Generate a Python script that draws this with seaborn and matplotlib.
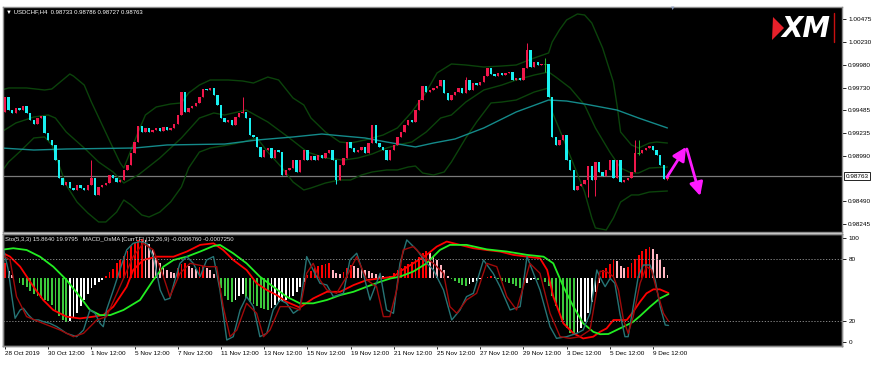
import numpy as np
import matplotlib
matplotlib.use("Agg")
import matplotlib.pyplot as plt
import seaborn as sns
from matplotlib.patches import Polygon
from matplotlib.lines import Line2D
from matplotlib.transforms import blended_transform_factory

# -------------------------------
# Price data (USDCHF H4, one close per bar)
# -------------------------------
FIRST_OPEN = 0.99464
CLOSES = [
    0.99627, 0.99485, 0.99453, 0.99507, 0.99485, 0.99529, 0.99453, 0.99377, 0.99333, 0.99398,
    0.99420, 0.99235, 0.99159, 0.99105, 0.98941, 0.98746, 0.98669, 0.98702, 0.98637, 0.98615,
    0.98669, 0.98637, 0.98615, 0.98669, 0.98746, 0.98561, 0.98648, 0.98669, 0.98691, 0.98778,
    0.98746, 0.98702, 0.98724, 0.98833, 0.98887, 0.99018, 0.99137, 0.99311, 0.99246, 0.99290,
    0.99246, 0.99268, 0.99290, 0.99257, 0.99300, 0.99268, 0.99290, 0.99333, 0.99431, 0.99681,
    0.99464, 0.99507, 0.99529, 0.99562, 0.99627, 0.99714, 0.99703, 0.99725, 0.99649, 0.99540,
    0.99398, 0.99355, 0.99377, 0.99322, 0.99409, 0.99453, 0.99464, 0.99398, 0.99213, 0.99192,
    0.99083, 0.98974, 0.99050, 0.99072, 0.98963, 0.99050, 0.99028, 0.98778, 0.98833, 0.98854,
    0.98941, 0.98811, 0.98941, 0.99050, 0.98941, 0.98985, 0.98941, 0.98996, 0.98963, 0.99018,
    0.99050, 0.98941, 0.98724, 0.98887, 0.98963, 0.99137, 0.99072, 0.99028, 0.99050, 0.99083,
    0.99018, 0.99126, 0.99322, 0.99126, 0.99083, 0.99050, 0.98941, 0.99050, 0.99105, 0.99192,
    0.99246, 0.99322, 0.99377, 0.99355, 0.99485, 0.99594, 0.99746, 0.99681, 0.99703, 0.99725,
    0.99746, 0.99812, 0.99670, 0.99594, 0.99649, 0.99681, 0.99725, 0.99670, 0.99812, 0.99703,
    0.99779, 0.99757, 0.99790, 0.99855, 0.99942, 0.99877, 0.99855, 0.99888, 0.99866, 0.99888,
    0.99899, 0.99812, 0.99834, 0.99812, 0.99942, 1.00138, 0.99953, 1.00008, 0.99975, 0.99986,
    0.99986, 0.99627, 0.99192, 0.99105, 0.99159, 0.99213, 0.98941, 0.98833, 0.98615, 0.98658,
    0.98680, 0.98724, 0.98876, 0.98724, 0.98920, 0.98811, 0.98767, 0.98833, 0.98941, 0.98746,
    0.98941, 0.98702, 0.98724, 0.98746, 0.98811, 0.99018, 0.99018, 0.99050, 0.99072, 0.99094,
    0.99050, 0.98996, 0.98887, 0.98733, 0.98763,
]
HIGH_WICKS = {24: 0.98941, 66: 0.99627, 128: 0.99844, 145: 1.00214, 150: 1.00051,
              175: 0.99159, 176: 0.99159, 184: 0.98786}
LOW_WICKS = {92: 0.98680, 150: 0.99899, 162: 0.98539, 164: 0.98550, 176: 0.98996, 184: 0.98727}
CURRENT = 0.98763

# Bollinger bands and long moving average (bar position, price)
BB_UP_BAR = [-1, 1, 6, 11, 13, 15, 18, 19, 22, 24, 27, 30, 32, 33, 37, 39, 42, 46, 49, 51,
             54, 57, 62, 66, 69, 73, 76, 80, 83, 85, 89, 93, 96, 100, 105, 109, 113, 117, 120, 124,
             128, 133, 138, 142, 147, 151, 152, 154, 156, 159, 161, 163, 166, 169, 170, 171, 174, 176, 179, 181,
             184]
BB_UP = [0.99703, 0.99725, 0.99725, 0.99703, 0.99714, 0.99779, 0.99877, 0.99855, 0.99757, 0.99572,
         0.99322, 0.99072, 0.98909, 0.98854, 0.99246, 0.99431, 0.99518, 0.99551, 0.99562, 0.99670,
         0.99757, 0.99812, 0.99812, 0.99801, 0.99779, 0.99844, 0.99812, 0.99616, 0.99540, 0.99398,
         0.99246, 0.99137, 0.99126, 0.99159, 0.99213, 0.99290, 0.99464, 0.99681, 0.99888, 0.99986,
         0.99975, 0.99953, 0.99964, 0.99975, 1.00051, 1.00106, 1.00225, 1.00356, 1.00465, 1.00530,
         1.00519, 1.00432, 1.00160, 0.99790, 0.99540, 0.99246, 0.99105, 0.99072, 0.99126, 0.99137,
         0.99126]
BB_MID_BAR = [-1, 3, 8, 12, 14, 17, 22, 26, 30, 33, 37, 43, 49, 54, 58, 61, 67, 73, 79, 84,
              89, 94, 98, 102, 106, 109, 113, 117, 121, 124, 128, 133, 138, 142, 147, 151, 153, 157, 161, 164,
              168, 171, 174, 176, 179, 184]
BB_MID = [0.99246, 0.99344, 0.99409, 0.99431, 0.99398, 0.99246, 0.99072, 0.98920, 0.98811, 0.98691,
          0.98778, 0.98963, 0.99181, 0.99398, 0.99453, 0.99431, 0.99485, 0.99355, 0.99181, 0.99028,
          0.98963, 0.98941, 0.98963, 0.99007, 0.99072, 0.99105, 0.99137, 0.99246, 0.99398, 0.99431,
          0.99572, 0.99703, 0.99757, 0.99812, 0.99866, 0.99899, 0.99844, 0.99725, 0.99540, 0.99290,
          0.99028, 0.98854, 0.98800, 0.98800, 0.98854, 0.98865]
BB_LOW_BAR = [-1, 1, 4, 8, 11, 13, 15, 17, 20, 23, 26, 28, 31, 33, 35, 38, 40, 43, 46, 49,
              51, 54, 57, 62, 66, 70, 73, 77, 80, 83, 85, 89, 93, 96, 99, 102, 106, 109, 112, 114,
              116, 119, 122, 124, 128, 131, 135, 138, 142, 147, 151, 152, 155, 158, 161, 163, 164, 167, 169, 171,
              174, 176, 179, 184]
BB_LOW = [0.98811, 0.98920, 0.99028, 0.99181, 0.99192, 0.99105, 0.98887, 0.98669, 0.98484, 0.98365,
          0.98267, 0.98267, 0.98375, 0.98506, 0.98452, 0.98343, 0.98321, 0.98375, 0.98484, 0.98648,
          0.98854, 0.99028, 0.99072, 0.99105, 0.99137, 0.99181, 0.99028, 0.98854, 0.98702, 0.98615,
          0.98637, 0.98691, 0.98724, 0.98724, 0.98778, 0.98811, 0.98833, 0.98833, 0.98865, 0.98876,
          0.98800, 0.98778, 0.98811, 0.98920, 0.99181, 0.99355, 0.99562, 0.99572, 0.99594, 0.99681,
          0.99725, 0.99464, 0.99181, 0.98887, 0.98593, 0.98310, 0.98202, 0.98180, 0.98310, 0.98484,
          0.98561, 0.98561, 0.98593, 0.98604]
MA_BAR = [-1, 8, 17, 36, 45, 61, 70, 80, 88, 94, 100, 106, 114, 119, 125, 133, 142, 151, 156, 161,
          170, 176, 184]
MA = [0.99072, 0.99050, 0.99061, 0.99072, 0.99105, 0.99115, 0.99159, 0.99192, 0.99224, 0.99202,
      0.99181, 0.99137, 0.99083, 0.99126, 0.99170, 0.99290, 0.99464, 0.99594, 0.99583, 0.99551,
      0.99485, 0.99398, 0.99290]

# -------------------------------
# Indicator window: Stochastic (5,3,3) and MACD OsMA (values in 1e-4)
# -------------------------------
OSMA = [
    6.8, 3.2, 1.4, 0.0, -2.3, -3.2, -4.1, -5.9, -7.2, -8.1,
    -9.0, -9.9, -10.4, -12.2, -14.4, -17.1, -18.9, -19.8, -19.4, -18.0,
    -15.8, -12.6, -9.9, -7.2, -4.5, -3.2, -1.8, -0.9, 0.9, 2.7,
    4.1, 6.8, 8.1, 9.9, 12.2, 14.4, 15.8, 17.1, 17.6, 17.1,
    15.3, 12.6, 9.9, 6.8, 4.5, 3.6, 2.7, 2.3, 4.5, 6.3,
    6.8, 5.4, 4.5, 4.1, 5.0, 5.4, 4.5, 3.6, 1.8, 0.5,
    -4.5, -8.1, -9.9, -10.8, -9.9, -8.1, -7.2, -9.0, -10.8, -11.7,
    -12.6, -13.5, -14.0, -14.4, -13.5, -12.2, -10.8, -10.4, -9.9, -9.0,
    -8.1, -6.3, -4.1, -1.8, 1.4, 3.2, 4.5, 5.4, 5.9, 6.3,
    6.8, 3.6, 2.3, 1.8, 2.7, 4.5, 5.9, 5.4, 4.5, 4.1,
    3.6, 3.2, 2.3, 1.8, 1.4, 0.9, 0.5, 0.9, 2.3, 3.6,
    4.5, 5.4, 6.3, 7.2, 8.1, 9.5, 11.3, 12.2, 11.3, 9.9,
    8.1, 5.9, 3.6, 0.9, -0.5, -1.4, -2.3, -3.2, -3.6, -2.7,
    -1.8, -1.4, -0.5, 0.0, 0.5, 0.9, 0.5, -0.5, -1.4, -1.8,
    -2.3, -2.7, -3.6, -4.5, -3.6, -2.3, -0.9, -0.5, -0.9, -1.4,
    -1.8, -3.6, -8.1, -12.6, -16.2, -18.9, -22.5, -24.8, -25.7, -24.8,
    -22.5, -19.8, -15.8, -10.8, -6.3, -2.3, 3.6, 4.5, 6.3, 8.1,
    7.7, 5.4, 4.5, 5.0, 6.8, 8.6, 10.4, 12.2, 13.1, 14.0,
    13.1, 10.8, 8.1, 5.0, 1.4,
]
STO_MAIN_BAR = [-1.4, -0.5, 0.9, 1.9, 2.8, 4.2, 5.1, 6.5, 7.9, 9.3,
                10.6, 12.5, 14.4, 17.1, 19.9, 21.8, 23.6, 25.0, 26.4, 27.3,
                28.2, 30.1, 31.9, 33.8, 35.6, 37.5, 39.4, 41.2, 43.1, 44.4,
                45.8, 47.2, 48.6, 50.5, 52.3, 54.2, 56.0, 57.9, 59.7, 61.6,
                63.4, 65.3, 67.1, 69.0, 70.8, 72.7, 74.5, 76.4, 78.2, 80.1,
                81.9, 83.8, 85.6, 87.5, 89.4, 91.2, 94.0, 95.8, 97.7, 99.5,
                101.4, 104.2, 106.0, 107.9, 109.7, 111.6, 114.4, 117.1, 119.0, 121.8,
                124.1, 126.4, 128.2, 130.1, 132.9, 135.6, 137.5, 140.3, 143.1, 145.0,
                146.8, 148.6, 151.4, 153.2, 156.0, 158.8, 160.6, 162.5, 164.4, 165.3,
                166.7, 168.1, 169.4, 170.8, 172.2, 173.1, 174.5, 175.9, 177.3, 179.2,
                180.6, 182.0, 183.4, 184.3]
STO_MAIN = [85.3, 90.1, 69.2, 43.6, 22.8, 30.8, 32.4, 26.0, 21.2, 21.2,
            19.6, 17.9, 14.7, 8.3, 5.1, 11.5, 30.8, 27.6, 17.9, 14.7,
            30.8, 50.0, 69.2, 88.5, 94.9, 96.5, 94.9, 82.1, 50.0, 40.4,
            42.0, 59.6, 75.6, 82.1, 75.6, 62.8, 78.8, 82.1, 50.0, 1.9,
            5.1, 30.8, 43.6, 34.0, 5.1, 8.3, 30.8, 40.4, 37.2, 27.6,
            32.0, 82.1, 69.2, 56.4, 54.8, 43.6, 46.8, 78.8, 85.3, 66.0,
            40.4, 66.0, 30.8, 27.6, 75.6, 98.1, 88.5, 75.6, 69.2, 50.0,
            21.2, 30.8, 43.6, 46.8, 78.8, 66.0, 53.2, 30.8, 34.0, 82.1,
            66.0, 50.0, 14.7, 3.5, 5.1, 8.3, 11.5, 27.6, 69.2, 62.0,
            53.2, 61.2, 56.4, 27.6, 5.1, 5.1, 34.0, 62.8, 74.0, 74.0,
            59.6, 34.0, 16.3, 15.9]
STO_SIG_BAR = [-1.4, 1.4, 3.2, 6.0, 10.6, 15.3, 19.0, 21.8, 25.5, 28.2,
               31.9, 35.6, 38.4, 41.2, 44.0, 45.8, 48.6, 51.4, 56.0, 58.8,
               60.6, 62.5, 64.4, 67.1, 69.9, 71.8, 73.6, 76.4, 79.2, 81.9,
               83.8, 85.6, 87.5, 89.4, 92.1, 94.9, 97.7, 100.5, 103.2, 105.1,
               106.9, 108.8, 110.6, 113.4, 116.2, 119.0, 121.8, 123.6, 125.5, 128.2,
               131.0, 133.8, 136.6, 139.4, 142.1, 144.0, 145.8, 148.6, 151.4, 154.2,
               156.9, 159.7, 162.5, 165.3, 167.1, 169.0, 170.4, 171.8, 173.1, 174.5,
               176.4, 178.2, 179.6, 181.0, 182.9, 184.3]
STO_SIG = [85.3, 78.8, 43.6, 24.4, 17.9, 11.5, 5.1, 8.3, 21.2, 24.4,
           53.2, 82.1, 94.9, 88.5, 62.8, 43.6, 66.0, 75.6, 72.4, 72.4,
           34.0, 5.1, 11.5, 37.2, 27.6, 5.1, 11.5, 34.0, 34.0, 30.8,
           66.0, 75.6, 59.6, 50.0, 46.8, 62.8, 82.1, 59.6, 53.2, 24.4,
           24.4, 50.0, 88.5, 91.7, 82.1, 75.6, 66.0, 34.0, 27.6, 40.4,
           46.8, 75.6, 72.4, 43.6, 30.8, 53.2, 75.6, 66.0, 27.6, 5.1,
           3.5, 5.1, 11.5, 68.0, 67.6, 62.8, 50.0, 21.2, 8.3, 24.4,
           56.4, 72.4, 69.2, 50.0, 27.6, 20.0]
MACD_BAR = [-1.4, 1.4, 4.2, 7.9, 10.6, 13.4, 17.1, 20.8, 24.5, 27.3,
            30.1, 33.8, 35.6, 38.4, 42.1, 46.8, 50.5, 54.2, 57.9, 60.6,
            63.4, 67.1, 69.9, 72.7, 75.5, 78.2, 81.9, 85.6, 89.4, 93.1,
            96.8, 100.5, 104.2, 107.9, 109.7, 113.4, 117.1, 119.9, 122.7, 126.4,
            130.1, 133.8, 137.5, 141.2, 145.0, 148.6, 150.6, 152.3, 155.1, 157.9,
            160.6, 163.4, 165.3, 167.1, 169.0, 170.8, 172.7, 174.5, 176.4, 178.2,
            180.1, 181.9, 184.3]
MACD = [11.9, 9.6, 5.1, -3.9, -9.9, -14.4, -17.4, -18.2, -17.4, -16.7,
        -12.9, -3.9, 3.6, 8.1, 9.6, 9.6, 11.9, 14.9, 15.6, 12.6,
        8.1, 3.6, -2.4, -5.4, -7.7, -10.7, -13.3, -9.2, -6.2, -6.2,
        -3.2, -0.9, -0.2, 0.6, 2.9, 6.6, 10.4, 14.1, 16.4, 14.9,
        13.4, 12.6, 11.9, 10.4, 9.6, 8.9, 3.6, -8.4, -20.4, -24.9,
        -27.2, -26.4, -24.2, -22.7, -18.9, -18.9, -18.9, -15.2, -10.7, -6.9,
        -5.1, -5.1, -6.76]
SIGNAL_BAR = [-1.4, 2.3, 6.0, 9.7, 13.4, 17.1, 20.8, 23.6, 26.4, 29.2,
              32.9, 37.5, 41.2, 44.0, 46.8, 50.5, 54.2, 57.9, 59.7, 63.4,
              67.1, 70.8, 74.5, 78.2, 81.9, 85.6, 89.4, 93.1, 96.8, 100.5,
              104.2, 107.1, 109.7, 113.4, 117.1, 120.8, 123.6, 128.2, 133.8, 139.4,
              145.0, 149.6, 152.3, 155.1, 157.9, 160.6, 163.4, 165.3, 167.6, 169.9,
              172.7, 174.5, 176.4, 179.2, 181.9, 184.3]
SIGNAL = [12.6, 13.4, 12.6, 9.6, 5.1, -0.9, -8.4, -14.4, -16.7, -16.7,
          -14.4, -9.9, -0.9, 5.1, 8.1, 9.6, 11.9, 14.4, 14.9, 11.1,
          6.6, 0.6, -3.9, -8.4, -11.4, -11.4, -9.9, -7.7, -6.2, -3.9,
          -1.7, -0.2, 0.6, 2.9, 6.6, 12.6, 14.9, 14.9, 12.9, 11.9,
          10.4, 9.6, 6.6, -3.9, -12.9, -20.4, -24.2, -25.3, -25.2, -23.4,
          -21.2, -19.7, -17.1, -12.9, -9.2, -7.25]

# -------------------------------
# Axis labels and annotations
# -------------------------------
PRICE_TICKS = [1.00475, 1.00230, 0.99980, 0.99730, 0.99485, 0.99235, 0.98990, 0.98490, 0.98245]
STO_TICKS = [0, 20, 80, 100]
TIME_BARS = [0, 12, 24, 36, 48, 60, 72, 84, 96, 108, 120, 132, 144, 156, 168, 180]
TIME_LABELS = ["28 Oct 2019", "30 Oct 12:00", "1 Nov 12:00", "5 Nov 12:00", "7 Nov 12:00",
               "11 Nov 12:00", "13 Nov 12:00", "15 Nov 12:00", "19 Nov 12:00", "21 Nov 12:00",
               "25 Nov 12:00", "27 Nov 12:00", "29 Nov 12:00", "3 Dec 12:00", "5 Dec 12:00",
               "9 Dec 12:00"]
ARROW_UP = [(183.9, 0.98756), (189.2, 0.99083)]
ARROW_DOWN = [(189.4, 0.99061), (193.1, 0.98550)]

# colours
BULL = "#F0174B"
BEAR = "#19F0F0"
DOJI = "#2BB52B"
BAND = "#0B430B"
MA_COL = "#148A8A"

sns.set_style("dark")
plt.rcParams["font.family"] = ["Liberation Sans", "DejaVu Sans"]

W, H = 875, 365
fig = plt.figure(figsize=(W / 100, H / 100), dpi=100, facecolor="white")


def px_box(x0, y0, x1, y1):
    return [x0 / W, 1 - y1 / H, (x1 - x0) / W, (y1 - y0) / H]


ax = fig.add_axes(px_box(3, 7, 842, 232))
axi = fig.add_axes(px_box(3, 234, 842, 346), sharex=ax)
axs = axi.twinx()

for a in (ax, axi):
    a.set_facecolor("black")
for a in (ax, axi, axs):
    for s in a.spines.values():
        s.set_color("#8c8c8c")
        s.set_linewidth(1.0)

# -------------------------------
# Main window: candles + bands
# -------------------------------
closes = np.array(CLOSES)
opens = np.r_[FIRST_OPEN, closes[:-1]]
idx = np.arange(len(closes))
highs = np.maximum(opens, closes)
lows = np.minimum(opens, closes)
for k, v in HIGH_WICKS.items():
    highs[k] = max(highs[k], v)
for k, v in LOW_WICKS.items():
    lows[k] = min(lows[k], v)
colors = np.where(closes > opens, BULL, np.where(closes < opens, BEAR, DOJI))

for xb, yb, c in [(BB_UP_BAR, BB_UP, BAND), (BB_MID_BAR, BB_MID, BAND),
                  (BB_LOW_BAR, BB_LOW, BAND), (MA_BAR, MA, MA_COL)]:
    sns.lineplot(x=xb, y=yb, ax=ax, color=c, linewidth=1.0, sort=False,
                 errorbar=None, legend=False)

ax.axhline(CURRENT, color="#7a7a7a", linewidth=0.9, zorder=1)
ax.vlines(idx, lows, highs, colors=colors, linewidth=0.7, zorder=3)
ax.bar(idx, np.abs(closes - opens), bottom=np.minimum(opens, closes), width=0.62,
       color=colors, linewidth=0, zorder=4)
doji = closes == opens
ax.hlines(closes[doji], idx[doji] - 0.35, idx[doji] + 0.35, colors=DOJI, linewidth=0.8, zorder=4)

for (x0, y0), (x1, y1) in (ARROW_UP, ARROW_DOWN):
    ax.annotate("", xy=(x1, y1), xytext=(x0, y0),
                arrowprops=dict(arrowstyle="-|>,head_length=0.8,head_width=0.4",
                                color="#FF1AFF", lw=2.0, shrinkA=0, shrinkB=0), zorder=6)

ax.set_xlim(-0.56, 232.5)
ax.set_ylim(0.98158, 1.00606)
ax.yaxis.tick_right()
ax.set_yticks(PRICE_TICKS)
ax.set_yticklabels([f"{p:.5f}" for p in PRICE_TICKS])
ax.tick_params(axis="y", right=True, left=False, labelsize=4.6, length=3, width=0.6,
               colors="black", pad=1.5)
ax.tick_params(axis="x", bottom=False, labelbottom=False)
ax.set_xlabel("")
ax.set_ylabel("")
ax.text(1.004, CURRENT, f"{CURRENT:.5f}", transform=blended_transform_factory(ax.transAxes, ax.transData),
        fontsize=4.6, va="center", ha="left", color="black",
        bbox=dict(boxstyle="square,pad=0.25", facecolor="white", edgecolor="black", linewidth=0.6))

# -------------------------------
# Indicator window
# -------------------------------
osma = np.array(OSMA)
prev = np.r_[osma[0], osma[:-1]]
hist_cols = np.where(osma >= 0, np.where(osma >= prev, "#FF0000", "#FFB6C1"),
                     np.where(osma <= prev, "#3CC83C", "#FFFFFF"))
axi.bar(idx, osma, width=0.5, color=hist_cols, linewidth=0, zorder=2)
sns.lineplot(x=MACD_BAR, y=MACD, ax=axi, color="#FF0000", linewidth=1.3, sort=False,
             errorbar=None, legend=False)
sns.lineplot(x=SIGNAL_BAR, y=SIGNAL, ax=axi, color="#22EE22", linewidth=1.3, sort=False,
             errorbar=None, legend=False)
axi.set_ylim(-30.6, 19.8)
axi.set_yticks([])
axi.set_xticks(TIME_BARS)
axi.set_xticklabels(TIME_LABELS, ha="left")
axi.tick_params(axis="x", bottom=True, labelsize=4.6, length=2, width=0.6, colors="black", pad=1.5)
axi.set_xlabel("")
axi.set_ylabel("")

for lvl in (80, 20):
    axs.axhline(lvl, color="#9a9a9a", linewidth=0.6, linestyle=(0, (1.5, 2)))
sns.lineplot(x=STO_MAIN_BAR, y=STO_MAIN, ax=axs, color="#267475", linewidth=1.0, sort=False,
             errorbar=None, legend=False)
sns.lineplot(x=STO_SIG_BAR, y=STO_SIG, ax=axs, color="#A00A0A", linewidth=1.0, sort=False,
             errorbar=None, legend=False)
axs.set_ylim(-3.85, 103.8)
axs.set_yticks(STO_TICKS)
axs.set_yticklabels([str(v) for v in STO_TICKS])
axs.tick_params(axis="y", right=True, labelsize=4.6, length=3, width=0.6, colors="black", pad=1.5)
axs.set_ylabel("")

# -------------------------------
# Header texts and logo
# -------------------------------
fig.text(6 / W, 1 - 12 / H, "\u25bc USDCHF,H4  0.98733 0.98786 0.98727 0.98763",
         color="white", fontsize=4.3, va="center", ha="left")
fig.text(5 / W, 1 - 239 / H,
         "Sto(5,3,3) 15.8640 19.9795   MACD_OsMA [CurrTF] (12,26,9) -0.0006760 -0.0007250",
         color="#e6e6e6", fontsize=4.3, va="center", ha="left")
fig.text(673 / W, 1 - 8.5 / H, "\u25bc", color="#8899bb", fontsize=4, va="center", ha="center")

fig.add_artist(Polygon([(773 / W, 1 - 17 / H), (784 / W, 1 - 28 / H), (772 / W, 1 - 40 / H)],
                       closed=True, facecolor="#E8202A", edgecolor="none", transform=fig.transFigure))
fig.text(806 / W, 1 - 29 / H, "XM", color="white", fontsize=20, fontweight="bold",
         fontstyle="italic", family="DejaVu Sans", va="center", ha="center")
fig.add_artist(Line2D([834 / W, 834 / W], [1 - 13 / H, 1 - 42 / H], color="#C81010",
                      linewidth=1.0, transform=fig.transFigure))

fig.savefig("out.png", dpi=100, facecolor="white")
